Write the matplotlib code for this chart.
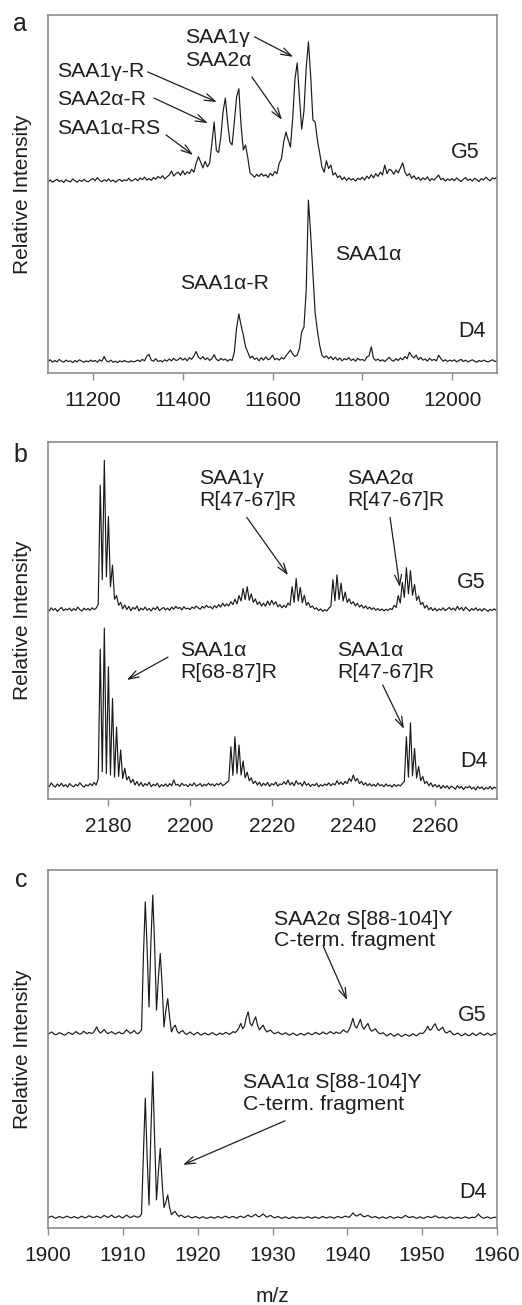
import numpy as np
import matplotlib
matplotlib.use("Agg")
import matplotlib.pyplot as plt

plt.rcParams['font.family'] = ['Liberation Sans', 'DejaVu Sans']

# ---------------- data ----------------
# Panel a: intact protein spectra, m/z 11100..12100 sampled every 5
a_start, a_step = 11100.0, 5.0
a_g5 = [0.3,0.8,0.2,0.6,1.0,0.4,0.7,0.1,0.9,0.5, 0.3,1.1,0.6,0.2,0.8,0.4,1.0,0.5,0.3,0.9,
        1.2,0.6,1.5,0.7,0.3,0.9,0.5,1.1,0.4,0.8, 0.2,0.7,1.0,0.4,0.9,0.6,1.3,0.5,0.8,1.2,
        0.6,1.4,0.9,1.6,0.8,1.2,0.7,1.5,1.0,1.8, 1.3,2.0,1.1,1.7,2.2,3.3,1.9,2.6,3.0,2.1,
        3.4,2.3,3.1,2.6,3.8,3.0,5.5,7.3,5.8,4.2, 6.0,4.5,5.5,11.0,17.0,9.0,8.5,13.0,20.0,23.7,
        17.0,11.5,10.6,17.0,24.0,26.3,16.0,9.2,10.6,7.0, 2.8,2.2,1.6,2.4,1.8,2.6,1.9,2.3,1.5,2.7,
        2.0,3.2,2.6,5.5,6.8,11.5,14.2,12.0,10.0,18.0, 29.0,33.5,24.0,15.0,20.0,32.0,39.4,30.0,17.6,17.0,
        12.0,8.4,4.5,3.0,6.2,4.0,5.0,2.2,2.8,1.5, 2.0,0.9,1.6,0.7,1.4,0.8,1.2,0.5,1.3,0.9,
        1.6,0.8,1.9,1.2,2.3,1.4,2.6,1.8,3.0,2.2, 5.0,2.6,3.8,3.5,2.4,3.6,2.8,4.2,5.6,3.0,
        2.0,2.6,1.3,2.0,1.0,1.6,0.7,1.4,0.9,1.7, 0.6,1.2,0.8,1.5,2.2,0.9,1.3,0.5,1.1,0.7,
        1.2,0.6,1.4,0.8,0.4,1.0,1.5,0.7,1.1,0.5, 1.3,0.9,0.4,1.2,0.8,1.6,1.0,0.6,1.4,1.1,1.7]
a_d4 = [0.4,0.9,0.2,0.7,0.3,1.0,0.5,0.2,0.8,0.4, 0.6,0.1,0.7,0.3,0.9,0.5,0.2,0.6,0.3,0.8,
        0.4,0.7,0.2,0.9,0.5,1.8,0.6,0.3,0.8,0.2, 0.5,0.1,0.6,0.3,0.7,0.4,0.2,0.6,0.3,0.5,
        0.8,0.4,1.0,0.6,1.9,2.4,0.8,0.5,1.2,0.4, 0.7,0.3,0.9,0.5,1.1,0.6,1.3,0.7,0.9,1.5,
        0.8,1.3,0.6,1.5,1.0,2.0,3.2,1.6,1.1,1.8, 0.9,1.4,0.7,1.2,2.3,1.0,0.6,1.3,0.8,1.1,
        0.5,1.0,0.7,3.0,9.8,13.7,10.5,7.8,4.5,3.0, 1.4,1.9,1.0,1.4,0.6,1.5,0.8,1.7,0.9,1.2,
        2.2,0.9,1.3,0.8,1.5,1.1,2.0,2.8,3.6,2.5, 1.8,2.2,4.0,8.7,10.0,20.0,45.5,36.0,25.0,14.0,
        9.0,5.0,2.2,1.5,2.0,1.2,1.8,0.9,1.6,0.8, 1.4,0.6,1.2,0.9,1.5,0.7,1.1,0.5,1.3,0.8,
        1.0,0.6,1.6,2.0,4.5,1.3,0.7,1.1,0.5,0.9, 0.4,1.0,1.6,0.8,0.5,1.2,0.7,1.4,0.9,1.8,
        1.2,3.0,2.0,1.4,2.2,0.9,1.6,0.8,1.1,0.5, 1.3,0.7,1.0,0.6,2.2,1.2,0.5,0.9,0.4,0.8,
        0.5,0.9,0.3,0.7,1.0,0.4,0.8,0.3,0.6,0.9, 0.5,0.2,0.7,0.4,0.8,0.5,0.3,0.6,0.9,0.4,0.7]

# Panel b: tryptic peptides, m/z 2165..2275 sampled every 0.5
b_start, b_step = 2165.0, 0.5
b_g5 = [0.8,0.2,1.1,0.4,0.9,0.1,0.7,1.2,0.3,0.8, 0.5,1.0,0.2,0.9,0.4,1.3,0.6,0.2,1.0,0.5,
        0.9,0.4,1.1,0.6,1.0,2.0,35.4,9.0,42.4,9.8, 26.6,7.0,13.0,3.5,4.5,1.8,2.6,0.8,1.9,0.6,
        1.5,0.3,1.2,0.7,1.6,0.2,1.0,0.5,1.3,0.4, 0.9,0.2,1.1,0.6,1.4,0.3,0.8,1.2,0.5,1.0,
        0.4,1.3,0.7,1.5,0.9,1.2,0.5,1.4,0.8,1.0, 0.6,1.3,0.9,1.6,1.1,0.7,1.5,1.0,1.8,1.2,
        1.4,0.8,1.7,1.1,2.0,1.3,2.4,1.5,2.2,1.6, 2.8,2.0,3.5,2.2,4.5,3.0,6.5,3.4,7.0,3.2,
        5.0,2.6,3.6,2.0,2.8,1.6,2.4,1.5,3.0,1.8, 3.2,2.0,2.8,1.4,2.0,1.1,1.8,1.2,2.4,1.8,
        7.0,2.6,9.3,3.0,6.8,2.5,4.6,1.8,2.6,1.2, 1.6,0.7,1.1,0.3,0.8,0.1,0.6,0.2,1.0,1.5,
        9.0,3.0,10.3,3.4,8.0,3.0,5.5,2.6,3.6,2.2, 2.8,1.6,2.4,1.3,1.9,1.0,1.6,0.8,1.3,0.6,
        1.1,0.4,0.9,0.3,0.8,0.2,0.7,0.3,0.9,0.6, 1.8,1.2,4.5,2.4,8.2,4.0,12.3,5.0,11.5,4.6,
        7.6,3.2,4.4,2.0,2.6,1.0,1.8,0.5,1.2,0.3, 1.0,0.2,0.8,0.4,1.1,0.3,0.7,1.2,0.5,1.0,
        0.4,1.5,0.6,1.2,0.3,1.3,0.7,0.2,0.9,0.4, 1.1,0.3,0.8,0.2,0.9,0.5,0.1,0.7,0.3,0.8,0.4]
b_d4 = [1.0,0.3,1.4,0.6,0.2,1.1,0.5,1.3,0.4,0.9, 0.2,1.2,0.6,0.3,1.0,0.5,1.4,0.7,0.2,0.9,
        0.5,1.2,0.6,1.5,0.8,2.5,38.8,4.5,44.7,4.0, 33.9,3.6,25.0,3.0,17.0,3.2,10.6,2.6,5.5,2.2,
        3.2,1.4,2.4,0.8,1.8,0.6,1.5,0.4,1.2,0.7, 1.6,0.3,1.0,0.6,1.3,0.2,0.9,0.5,1.1,0.4,
        1.2,0.6,2.2,0.8,1.0,0.4,1.3,0.7,0.9,0.3, 1.1,0.6,1.4,0.5,0.8,1.2,0.4,1.0,0.6,1.3,
        0.7,1.1,0.5,1.2,0.8,1.4,0.6,1.0,1.5,2.0, 11.5,3.5,14.3,4.0,12.0,3.6,7.5,2.8,4.4,2.0,
        2.8,1.2,1.9,0.8,1.6,0.5,1.3,0.7,1.5,0.4, 1.2,0.8,1.6,0.5,1.1,0.9,1.7,1.0,2.2,0.8,
        1.5,0.6,2.0,1.0,1.4,0.5,1.8,0.7,1.2,0.4, 1.0,0.6,1.3,0.3,0.9,0.5,1.1,0.7,1.4,0.6,
        1.2,0.8,2.0,1.0,1.6,0.9,1.8,1.2,2.6,1.8, 3.6,1.9,2.6,1.2,1.8,0.8,1.4,0.6,1.2,0.5,
        1.0,0.4,1.3,0.6,0.9,0.3,1.1,0.5,0.8,0.2, 1.0,0.4,0.9,0.5,1.2,1.8,14.3,3.0,18.2,3.4,
        11.0,2.8,6.0,2.0,3.2,1.2,1.8,0.6,1.4,0.3, 1.0,0.2,0.8,-0.2,0.7,0.0,0.6,-0.3,0.5,0.1,
        -0.4,0.6,-0.1,0.4,-0.5,0.3,0.0,0.5,-0.3,0.2, -0.6,0.4,-0.2,0.3,-0.5,0.1,-0.3,0.4,-0.4,0.2,-0.1]

# Panel c: C-terminal fragment, m/z 1900..1960 sampled every 0.25
c_start, c_step = 1900.0, 0.25
c_g5 = [0.2,0.6,0.9,0.4, 0.1,0.3,0.7,0.5, 0.2,0.0,0.4,0.8, 0.5,0.2,0.6,1.0,
        0.6,0.3,0.5,1.1, 0.7,0.4,0.8,0.5, 0.6,1.3,2.3,1.2, 0.6,1.0,1.6,0.9,
        0.4,0.7,1.0,0.6, 0.3,0.6,0.9,0.5, 0.4,0.9,1.5,1.0, 0.5,0.8,1.3,0.7,
        0.4,0.8,1.5,22.0, 37.2,24.0,7.9,26.0, 39.1,25.0,7.0,16.0, 22.8,14.0,2.3,7.0,
        10.2,5.0,0.9,2.2, 2.8,1.2,0.5,1.0, 1.3,0.6,0.2,0.5, 0.9,0.4,0.1,0.5,
        0.8,0.3,0.0,0.4, 0.6,0.2,0.1,0.5, 0.7,0.3,0.0,0.3, 0.6,0.2,0.4,0.8,
        0.5,0.2,0.6,1.0, 0.7,1.2,2.0,3.3, 1.8,2.5,5.0,6.5, 3.4,2.6,4.0,5.1,
        2.8,1.5,2.2,2.8, 1.6,0.9,1.2,1.4, 0.8,0.4,0.6,0.9, 0.5,0.2,0.4,0.7,
        0.3,0.0,0.3,0.6, 0.2,-0.1,0.2,0.5, 0.3,0.0,0.3,0.7, 0.4,0.1,0.4,0.8,
        0.5,0.2,0.5,0.9, 0.5,0.3,0.7,1.0, 0.6,0.4,0.9,0.6, 0.5,1.0,1.5,1.0,
        0.8,1.6,3.0,4.7, 2.6,2.0,3.2,4.4, 2.4,1.7,2.6,3.3, 1.8,1.1,1.4,1.8,
        1.0,0.5,0.4,0.7, 0.3,-0.2,0.1,0.5, 0.1,-0.3,0.0,0.4, 0.0,-0.4,-0.1,0.3,
        0.0,-0.3,0.0,0.4, 0.1,-0.2,0.3,0.6, 0.4,0.8,1.5,2.5, 1.4,1.6,2.6,3.2,
        1.8,1.3,1.8,2.2, 1.0,0.6,0.9,1.2, 0.5,0.1,0.3,0.6, 0.2,-0.2,0.1,0.5,
        0.1,-0.2,0.2,0.6, 0.2,-0.1,0.3,0.7, 0.3,0.0,0.2,0.6, 0.2,-0.1,0.3,0.5, 0.2]
c_d4 = [0.1,0.4,0.6,0.3, 0.0,0.2,0.5,0.3, 0.1,0.3,0.6,0.4, 0.1,0.2,0.5,0.2,
        0.0,0.3,0.6,0.3, 0.1,0.4,0.7,0.4, 0.2,0.3,0.6,0.4, 0.1,0.4,0.8,0.5,
        0.2,0.5,0.9,0.4, 0.2,0.4,0.7,0.3, 0.1,0.5,0.9,0.5, 0.2,0.4,0.7,0.4,
        0.3,0.5,1.2,18.0, 33.5,17.0,3.7,24.0, 40.9,22.0,5.1,13.0, 19.5,10.0,3.0,4.5,
        6.5,3.0,1.0,1.6, 1.9,1.0,0.5,0.9, 0.6,0.2,0.4,0.7, 0.3,0.1,0.3,0.5,
        0.2,0.0,0.3,0.4, 0.1,0.0,0.2,0.4, 0.2,0.0,0.3,0.5, 0.2,0.1,0.4,0.6,
        0.3,0.1,0.4,0.5, 0.2,0.0,0.4,0.6, 0.3,0.2,0.6,0.9, 0.5,0.4,0.8,1.1,
        0.6,0.4,0.8,1.2, 0.7,0.3,0.6,0.8, 0.4,0.1,0.3,0.5, 0.2,0.0,0.2,0.4,
        0.1,-0.1,0.2,0.4, 0.2,0.0,0.2,0.3, 0.1,0.0,0.3,0.4, 0.2,0.0,0.2,0.4,
        0.1,0.0,0.3,0.5, 0.2,0.1,0.3,0.4, 0.2,0.0,0.3,0.5, 0.3,0.1,0.4,0.6,
        0.4,0.3,0.8,1.5, 0.9,0.6,0.9,1.2, 0.7,0.4,0.6,0.8, 0.5,0.2,0.3,0.5,
        0.2,0.0,0.2,0.4, 0.1,0.0,0.3,0.5, 0.2,0.0,0.2,0.4, 0.2,0.1,0.4,0.8,
        0.5,0.2,0.3,0.5, 0.2,0.0,0.2,0.4, 0.1,0.0,0.3,0.5, 0.3,0.2,0.4,0.7,
        0.4,0.1,0.2,0.4, 0.1,0.0,0.2,0.4, 0.2,0.0,0.1,0.3, 0.1,0.0,0.2,0.4,
        0.2,0.0,0.2,0.3, 0.2,0.5,1.2,0.6, 0.2,0.0,0.2,0.4, 0.1,0.0,0.2,0.3, 0.1]

a_ticks = [11200, 11400, 11600, 11800, 12000]
b_ticks = [2180, 2200, 2220, 2240, 2260]
c_ticks = [1900, 1910, 1920, 1930, 1940, 1950, 1960]
sample_names = ["G5", "D4"]

# ---------------- layout / style ----------------
W, H = 522, 1305
fig = plt.figure(figsize=(W / 100, H / 100), dpi=100)
TXT = "#1e1e1e"
SPINE = "#8c8c8c"
LINE = "#1a1a1a"
FS = 15.3


def make_axes(top_px, bot_px):
    left, right = 48, 497
    ax = fig.add_axes([left / W, 1 - bot_px / H, (right - left) / W, (bot_px - top_px) / H])
    for s in ax.spines.values():
        s.set_color(SPINE)
        s.set_linewidth(1.2)
    ax.set_ylim(0, 100)
    ax.set_yticks([])
    ax.tick_params(axis="x", direction="out", length=5, width=1.0, color=SPINE,
                   labelsize=15, labelcolor=TXT, pad=8)
    return ax


def trace(ax, start, step, vals, offset):
    v = np.asarray(vals, dtype=float)
    x = start + step * np.arange(len(v))
    ax.plot(x, v + offset, color=LINE, lw=0.85)


def arrow(ax, tail, tip):
    ax.annotate("", xy=tip, xytext=tail,
                arrowprops=dict(arrowstyle="->,head_length=0.75,head_width=0.25",
                                color=TXT, lw=0.9, shrinkA=0, shrinkB=0))


def label(ax, x, y, s, size=FS, **kw):
    ax.text(x, y, s, fontsize=size, color=TXT, va="center", ha="left", **kw)


def sample(ax, x_right, y, s):
    ax.text(x_right, y, s, fontsize=15.5, color=TXT, va="center", ha="right")


# Panel a
ax = make_axes(15, 373)
trace(ax, a_start, a_step, a_g5, 53.1)
trace(ax, a_start, a_step, a_d4, 2.8)
ax.set_xlim(11100, 12100)
ax.set_xticks(a_ticks)
label(ax, 11405, 93.6, "SAA1\u03b3")
label(ax, 11405, 87.2, "SAA2\u03b1")
label(ax, 11120, 84.1, "SAA1\u03b3-R")
label(ax, 11120, 76.5, "SAA2\u03b1-R")
label(ax, 11120, 68.4, "SAA1\u03b1-RS")
arrow(ax, (11560, 93.9), (11646, 88.3))
arrow(ax, (11554, 82.7), (11621, 70.7))
arrow(ax, (11322, 84.1), (11476, 75.7))
arrow(ax, (11336, 76.8), (11456, 69.8))
arrow(ax, (11363, 66.5), (11423, 60.9))
sample(ax, 12062, 61.5, sample_names[0])
label(ax, 11394, 25.1, "SAA1\u03b1-R")
label(ax, 11739, 33.0, "SAA1\u03b1")
sample(ax, 12075, 11.7, sample_names[1])

# Panel b
ax = make_axes(442, 799.3)
trace(ax, b_start, b_step, b_g5, 52.5)
trace(ax, b_start, b_step, b_d4, 3.2)
ax.set_xlim(2165.2, 2275.2)
ax.set_xticks(b_ticks)
label(ax, 2202.2, 89.8, "SAA1\u03b3")
label(ax, 2202.2, 83.7, "R[47-67]R")
arrow(ax, (2213.9, 78.9), (2224.0, 62.7))
label(ax, 2238.4, 89.8, "SAA2\u03b1")
label(ax, 2238.4, 83.7, "R[47-67]R")
arrow(ax, (2249.0, 78.9), (2251.4, 59.4))
sample(ax, 2272.5, 60.8, sample_names[0])
label(ax, 2197.5, 41.7, "SAA1\u03b1")
label(ax, 2197.5, 35.6, "R[68-87]R")
arrow(ax, (2194.6, 39.8), (2184.5, 33.4))
label(ax, 2236.0, 41.7, "SAA1\u03b1")
label(ax, 2236.0, 35.6, "R[47-67]R")
arrow(ax, (2247.2, 32.0), (2252.4, 19.7))
sample(ax, 2272.9, 10.7, sample_names[1])

# Panel c
ax = make_axes(870, 1228.3)
trace(ax, c_start, c_step, c_g5, 53.9)
trace(ax, c_start, c_step, c_d4, 2.8)
ax.set_xlim(1900, 1960)
ax.set_xticks(c_ticks)
label(ax, 1930.2, 86.2, "SAA2\u03b1 S[88-104]Y")
label(ax, 1930.2, 80.3, "C-term. fragment")
arrow(ax, (1936.75, 78.9), (1939.96, 63.7))
sample(ax, 1958.6, 59.5, sample_names[0])
label(ax, 1926.1, 40.7, "SAA1\u03b1 S[88-104]Y")
label(ax, 1926.1, 34.6, "C-term. fragment")
arrow(ax, (1931.67, 30.0), (1918.04, 17.7))
sample(ax, 1958.6, 9.9, sample_names[1])

# Figure-level text
for cy in [(15 + 373) / 2, (442 + 799.3) / 2, (870 + 1228.3) / 2]:
    fig.text(23 / W, 1 - cy / H, "Relative Intensity", rotation=90, fontsize=15,
             color=TXT, ha="center", va="center")
for s, cx, cy in [("a", 20, 24), ("b", 20, 455), ("c", 21, 880)]:
    fig.text(cx / W, 1 - cy / H, s, fontsize=18, color=TXT, ha="center", va="center")
fig.text(272.5 / W, 1 - 1296 / H, "m/z", fontsize=15, color=TXT, ha="center", va="center")

fig.savefig("out.png", dpi=100)
